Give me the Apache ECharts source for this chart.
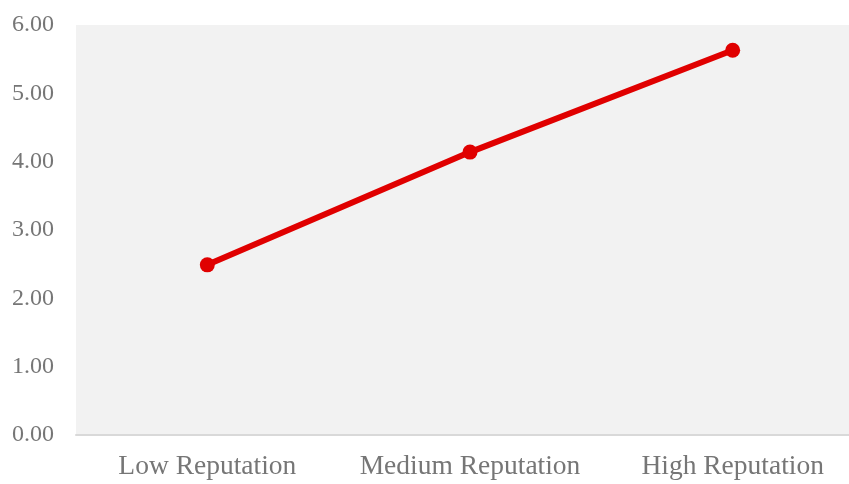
<!DOCTYPE html>
<html>
<head>
<meta charset="utf-8">
<script src="https://cdn.jsdelivr.net/npm/echarts@6/dist/echarts.min.js"></script>
<style>
  html, body { margin: 0; padding: 0; background: #fff; overflow: hidden; }
  #main { width: 900px; height: 484px; }
</style>
</head>
<body>
<div id="main"></div>
<script>
const categories = ['Low Reputation', 'Medium Reputation', 'High Reputation']
const values = [2.49, 4.14, 5.63]

// the plot area runs past the right edge of the picture, so the
// chart is a little wider than the window and gets cropped
const chartDom = document.getElementById('main')
const myChart = echarts.init(chartDom)
const serif = '"Liberation Serif", "Times New Roman", serif'
var option
option = {
  animation: false,
  grid: {
    left: 76,
    top: 25,
    right: 36,
    bottom: 49,
    show: true,
    backgroundColor: '#f2f2f2',
    borderWidth: 0
  },
  xAxis: {
    type: 'category',
    data: categories,
    axisTick: { show: false },
    axisLine: { lineStyle: { color: '#d9d9d9', width: 2 } },
    axisLabel: { interval: 0, margin: 18, color: '#767676', fontFamily: serif, fontSize: 27.5 }
  },
  yAxis: {
    type: 'value',
    min: 0,
    max: 6,
    interval: 1,
    splitLine: { show: false },
    axisLine: { show: false },
    axisTick: { show: false },
    axisLabel: {
      margin: 22,
      color: '#767676',
      fontFamily: serif,
      fontSize: 24,
      formatter: v => v.toFixed(2)
    }
  },
  series: [
    {
      type: 'line',
      data: values,
      symbol: 'circle',
      symbolSize: 15,
      lineStyle: { color: '#e00000', width: 6 },
      itemStyle: { color: '#e00000' }
    }
  ]
}
option && myChart.setOption(option)
</script>
</body>
</html>
